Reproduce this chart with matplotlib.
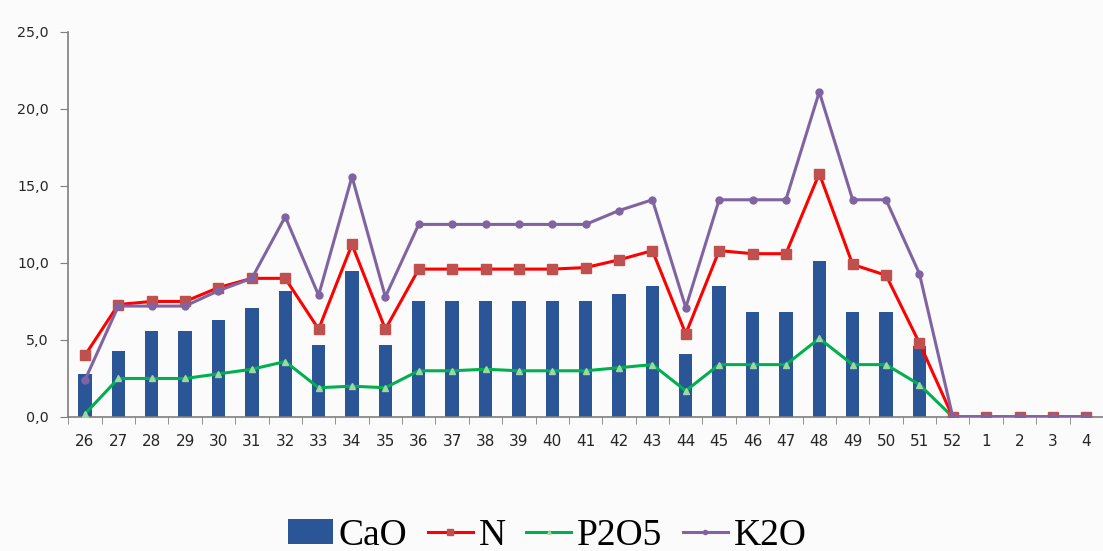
import matplotlib
matplotlib.use("Agg")
import matplotlib.pyplot as plt
import numpy as np
from matplotlib.ticker import FuncFormatter, FixedLocator

weeks = ["26","27","28","29","30","31","32","33","34","35","36","37","38","39","40",
         "41","42","43","44","45","46","47","48","49","50","51","52","1","2","3","4"]
cao = [2.8,4.3,5.6,5.6,6.3,7.1,8.2,4.7,9.5,4.7,7.5,7.5,7.5,7.5,7.5,
       7.5,8.0,8.5,4.1,8.5,6.8,6.8,10.1,6.8,6.8,4.6,0,0,0,0,0]
n = [4.0,7.3,7.5,7.5,8.4,9.0,9.0,5.7,11.2,5.7,9.6,9.6,9.6,9.6,9.6,
     9.7,10.2,10.8,5.4,10.8,10.6,10.6,15.8,9.9,9.2,4.8,0,0,0,0,0]
p2o5 = [0.2,2.5,2.5,2.5,2.8,3.1,3.6,1.9,2.0,1.9,3.0,3.0,3.1,3.0,3.0,
        3.0,3.2,3.4,1.7,3.4,3.4,3.4,5.1,3.4,3.4,2.1,0,0,0,0,0]
k2o = [2.4,7.2,7.2,7.2,8.2,9.0,13.0,7.9,15.6,7.8,12.5,12.5,12.5,12.5,12.5,
       12.5,13.4,14.1,7.1,14.1,14.1,14.1,21.1,14.1,14.1,9.3,0,0,0,0,0]

fig = plt.figure(figsize=(11.03, 5.51), dpi=100)
fig.patch.set_facecolor("#fbfbfb")
ax = fig.add_axes([0.0619, 0.2432, 0.9381, 0.699])
ax.set_facecolor("#fbfbfb")

x = np.arange(len(weeks))
h_cao = ax.bar(x, cao, width=0.4, color="#2A5597", label="CaO", zorder=2)
h_n, = ax.plot(x, n, color="#FF0000", lw=2.2, marker="s", ms=7, mfc="#C0504D", mec="#C0504D",
               label="N", zorder=4)
h_p, = ax.plot(x, p2o5, color="#00B050", lw=2.2, marker="^", ms=4, mfc="#9BD9A0", mec="#9BD9A0",
               label="P2O5", zorder=3)
h_k, = ax.plot(x, k2o, color="#8064A2", lw=2.2, marker="o", ms=5, mfc="#8064A2", mec="#8064A2",
               label="K2O", zorder=5)

ax.set_xlim(-0.5, len(weeks) - 0.5)
ax.set_ylim(0, 25)
ax.set_yticks([0, 5, 10, 15, 20, 25])
ax.yaxis.set_major_formatter(FuncFormatter(lambda v, p: f"{v:.1f}".replace(".", ",")))
ax.set_xticks(x)
ax.set_xticklabels(weeks)
ax.xaxis.set_minor_locator(FixedLocator(np.arange(-0.5, len(weeks), 1.0)))
ax.tick_params(axis="x", which="major", length=0, pad=12, labelsize=11, labelcolor="#262626")
ax.tick_params(axis="x", which="minor", length=5, color="#7f7f7f", direction="out")
ax.tick_params(axis="y", length=6, color="#7f7f7f", labelsize=10.3, labelcolor="#262626", pad=8)
for s in ["top", "right"]:
    ax.spines[s].set_visible(False)
for s in ["left", "bottom"]:
    ax.spines[s].set_color("#7f7f7f")
    ax.spines[s].set_linewidth(1.2)

leg = fig.legend([h_cao, h_n, h_p, h_k], ["CaO", "N", "P2O5", "K2O"],
                 loc="center", bbox_to_anchor=(0.496, 0.028), ncol=4, frameon=False,
                 prop={"family": "Liberation Serif", "size": 27}, handlelength=1.2,
                 handleheight=0.65, handletextpad=0.15, columnspacing=0.55, markerscale=0.6)
fig.savefig("out.png", dpi=100, facecolor=fig.get_facecolor())
